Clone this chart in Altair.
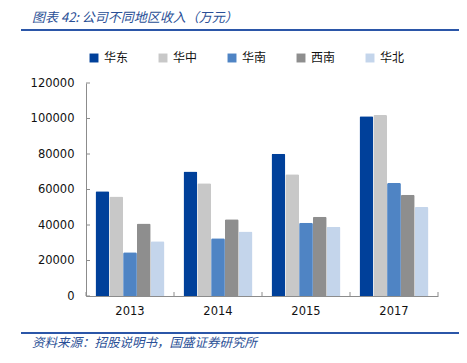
import altair as alt
import pandas as pd

years = ["2013", "2014", "2015", "2017"]
regions = ["华东", "华中", "华南", "西南", "华北"]
east = [59000, 70200, 80200, 101300]
central = [56000, 63500, 68600, 102000]
south = [24600, 32500, 41300, 63700]
southwest = [40800, 43200, 44700, 57100]
north = [30800, 36400, 39000, 50100]
colors = ["#00409A", "#C8C8C8", "#4F84C4", "#8E8E8E", "#C4D5EB"]
y_ticks = [0, 20000, 40000, 60000, 80000, 100000, 120000]

title_text = "图表 42:  公司不同地区收入（万元）"
source_text = "资料来源：招股说明书，国盛证券研究所"

series = [east, central, south, southwest, north]
rows = []
for r, vals in zip(regions, series):
    for y, v in zip(years, vals):
        rows.append({"year": y, "region": r, "value": v})
df = pd.DataFrame(rows)

W, H = 352, 213
AXIS_COLOR = "#8C8C8C"
BLUE = "#2B56A8"
CJK = "Noto Sans CJK SC"

x_scale = alt.Scale(domain=years, paddingInner=0, paddingOuter=0)
y_scale = alt.Scale(domain=[0, 120000], nice=False)
x_axis = alt.Axis(title=None, labelAngle=0, ticks=False, domainColor=AXIS_COLOR,
                  labelFont="DejaVu Sans", labelFontSize=11.5, labelColor="#111",
                  labelPadding=9)
y_axis = alt.Axis(title=None, values=y_ticks, format="d", labelOverlap=False,
                  ticks=False, grid=False, domainColor=AXIS_COLOR,
                  labelFont="DejaVu Sans", labelFontSize=11.5, labelColor="#111",
                  labelPadding=12)

bars = alt.Chart(df).mark_bar(cornerRadiusTopLeft=1.5, cornerRadiusTopRight=1.5).encode(
    x=alt.X("year:N", scale=x_scale, sort=years, axis=x_axis),
    xOffset=alt.XOffset("region:N", sort=regions,
                        scale=alt.Scale(domain=regions, paddingInner=0, paddingOuter=0.69)),
    y=alt.Y("value:Q", scale=y_scale, axis=y_axis),
    color=alt.Color("region:N", sort=regions,
                    scale=alt.Scale(domain=regions, range=colors),
                    legend=alt.Legend(title=None, orient="none", direction="horizontal",
                                      legendX=2, legendY=-31, symbolType="square",
                                      symbolSize=80, symbolStrokeWidth=0,
                                      labelFont=CJK, labelFontSize=12, labelColor="#111",
                                      columnPadding=28, labelOffset=4, padding=0)),
)

ytick_df = pd.DataFrame({"value": y_ticks})
yticks = alt.Chart(ytick_df).mark_rule(color=AXIS_COLOR, strokeWidth=1).encode(
    y=alt.Y("value:Q", scale=y_scale, axis=y_axis), x=alt.value(0), x2=alt.value(4)
)

xtick_df = pd.DataFrame({"year": years})
xticks = alt.Chart(xtick_df).mark_rule(color=AXIS_COLOR, strokeWidth=1).encode(
    x=alt.X("year:N", bandPosition=0, sort=years, scale=x_scale, axis=x_axis),
    y=alt.value(H), y2=alt.value(H - 4)
)

one = pd.DataFrame({"a": [0]})
xtick_end = alt.Chart(one).mark_rule(color=AXIS_COLOR, strokeWidth=1).encode(
    x=alt.value(W), y=alt.value(H), y2=alt.value(H - 4)
)

top_line = alt.Chart(one).mark_rule(color=BLUE, strokeWidth=2).encode(
    x=alt.value(-65), x2=alt.value(375), y=alt.value(-53)
)
bottom_line = alt.Chart(one).mark_rule(color=BLUE, strokeWidth=2).encode(
    x=alt.value(-65), x2=alt.value(375), y=alt.value(250)
)

title = alt.Chart(one).mark_text(
    text=title_text, font=CJK, fontSize=13, fontStyle="italic", color="#2A4F96",
    align="left", baseline="middle"
).encode(x=alt.value(-54), y=alt.value(-65))

source = alt.Chart(one).mark_text(
    text=source_text, font=CJK, fontSize=12.5, fontStyle="italic", color="#2A4F96",
    align="left", baseline="middle"
).encode(x=alt.value(-54), y=alt.value(260))

chart = alt.layer(bars, yticks, xticks, xtick_end, top_line, bottom_line, title, source).properties(
    width=W, height=H,
    autosize=alt.AutoSizeParams(type="none"),
    padding={"left": 78, "top": 75, "right": 21, "bottom": 59},
).configure_view(stroke=None).configure_axis(domainWidth=1).configure_axisY(labelOverlap=False)

chart.save("out.html", embed_options={"renderer": "svg", "actions": False})
